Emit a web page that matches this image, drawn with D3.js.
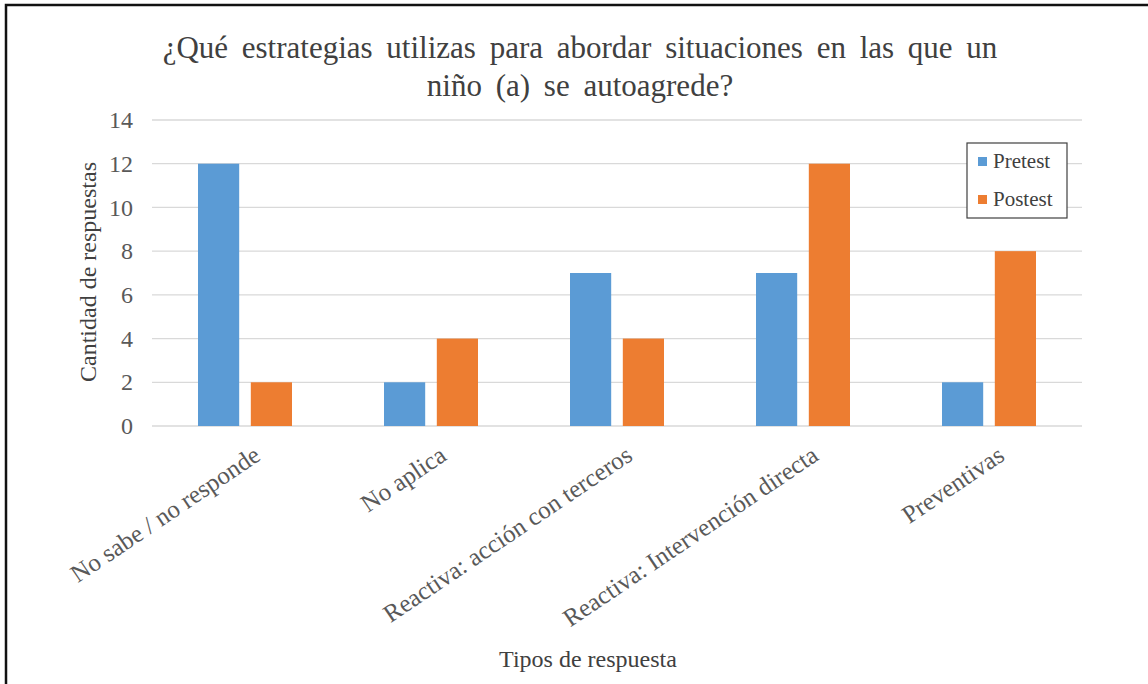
<!DOCTYPE html>
<html>
<head>
<meta charset="utf-8">
<script src="https://cdn.jsdelivr.net/npm/d3@7"></script>
<style>
  body { margin: 0; background: #fff; }
  svg text { font-family: "Liberation Serif", "Times New Roman", serif; }
</style>
</head>
<body>
<svg id="chart" width="1148" height="684"></svg>
<script>
const categories = [
  "No sabe / no responde",
  "No aplica",
  "Reactiva: acción con terceros",
  "Reactiva: Intervención directa",
  "Preventivas"
];
const seriesNames = ["Pretest", "Postest"];
const pretest = [12, 2, 7, 7, 2];
const postest = [2, 4, 4, 12, 8];
const yTicks = [0, 2, 4, 6, 8, 10, 12, 14];
const titleLines = [
  "¿Qué estrategias utilizas para abordar situaciones en las que un",
  "niño (a) se autoagrede?"
];

const colors = ["#5B9BD5", "#ED7D31"];
const serif = "Liberation Serif, Times New Roman, serif";

const svg = d3.select("#chart");
const margin = { top: 120, right: 66, bottom: 258, left: 152 };
const width = +svg.attr("width");
const height = +svg.attr("height");
const innerWidth = width - margin.left - margin.right;
const innerHeight = height - margin.top - margin.bottom;

// frame
svg.append("rect")
  .attr("x", 6)
  .attr("y", 5)
  .attr("width", 1160)
  .attr("height", 700)
  .attr("fill", "none")
  .attr("stroke", "#111")
  .attr("stroke-width", 2.5);

const g = svg.append("g")
  .attr("transform", `translate(${margin.left}, ${margin.top})`);

const x0 = d3.scaleBand()
  .domain(categories)
  .range([0, innerWidth]);

const x1 = d3.scaleBand()
  .domain(seriesNames)
  .range([0, 94])
  .paddingInner(0.22);

const y = d3.scaleLinear()
  .domain([0, 14])
  .range([innerHeight, 0]);

// gridlines
g.append("g")
  .selectAll("line")
  .data(yTicks)
  .join("line")
  .attr("x1", 0)
  .attr("x2", innerWidth)
  .attr("y1", d => y(d))
  .attr("y2", d => y(d))
  .attr("stroke", "#D9D9D9")
  .attr("stroke-width", 1.3);

// y axis labels
const yAxis = g.append("g")
  .call(d3.axisLeft(y).tickValues(yTicks).tickSize(0).tickPadding(19));
yAxis.select(".domain").remove();
yAxis.selectAll("text")
  .attr("font-family", serif)
  .attr("font-size", "24px")
  .attr("fill", "#595959");

const rows = categories.map((c, i) => ({
  category: c,
  values: [
    { key: seriesNames[0], value: pretest[i] },
    { key: seriesNames[1], value: postest[i] }
  ]
}));

const groups = g.selectAll(".group")
  .data(rows)
  .join("g")
  .attr("class", "group")
  .attr("transform", d => `translate(${x0(d.category) + x0.bandwidth() / 2 - 47}, 0)`);

groups.selectAll("rect")
  .data(d => d.values)
  .join("rect")
  .attr("x", d => x1(d.key))
  .attr("y", d => y(d.value))
  .attr("width", x1.bandwidth())
  .attr("height", d => innerHeight - y(d.value))
  .attr("fill", (d, i) => colors[i]);

// x axis labels
const xAxis = g.append("g")
  .attr("transform", `translate(0, ${innerHeight})`)
  .call(d3.axisBottom(x0).tickSize(0).tickPadding(0));
xAxis.select(".domain").remove();
xAxis.selectAll("text")
  .attr("font-family", serif)
  .attr("font-size", "25px")
  .attr("fill", "#595959")
  .attr("dy", 0)
  .attr("y", 0)
  .attr("text-anchor", "end")
  .attr("transform", "translate(17, 33) rotate(-34)");

// title
svg.append("text")
  .attr("x", 580)
  .attr("y", 58)
  .attr("text-anchor", "middle")
  .attr("font-family", serif)
  .attr("font-size", "31px")
  .attr("word-spacing", "6px")
  .attr("fill", "#404040")
  .selectAll("tspan")
  .data(titleLines)
  .join("tspan")
  .attr("x", 580)
  .attr("dy", (d, i) => i === 0 ? 0 : 38)
  .text(d => d);

// axis titles
svg.append("text")
  .attr("transform", "rotate(-90)")
  .attr("x", -272)
  .attr("y", 96)
  .attr("text-anchor", "middle")
  .attr("font-family", serif)
  .attr("font-size", "24px")
  .attr("fill", "#404040")
  .text("Cantidad de respuestas");

svg.append("text")
  .attr("x", 588)
  .attr("y", 667)
  .attr("text-anchor", "middle")
  .attr("font-family", serif)
  .attr("font-size", "24px")
  .attr("fill", "#404040")
  .text("Tipos de respuesta");

// legend
const legend = svg.append("g")
  .attr("transform", "translate(967, 143)");

legend.append("rect")
  .attr("width", 100)
  .attr("height", 75)
  .attr("fill", "#fff")
  .attr("stroke", "#404040")
  .attr("stroke-width", 1.2);

const items = legend.selectAll(".item")
  .data(seriesNames)
  .join("g")
  .attr("class", "item")
  .attr("transform", (d, i) => `translate(11, ${18 + i * 38})`);

items.append("rect")
  .attr("width", 9)
  .attr("height", 9)
  .attr("y", -4)
  .attr("fill", (d, i) => colors[i]);

items.append("text")
  .attr("x", 15)
  .attr("y", 7)
  .attr("font-family", serif)
  .attr("font-size", "21px")
  .attr("fill", "#404040")
  .text(d => d);
</script>
</body>
</html>
